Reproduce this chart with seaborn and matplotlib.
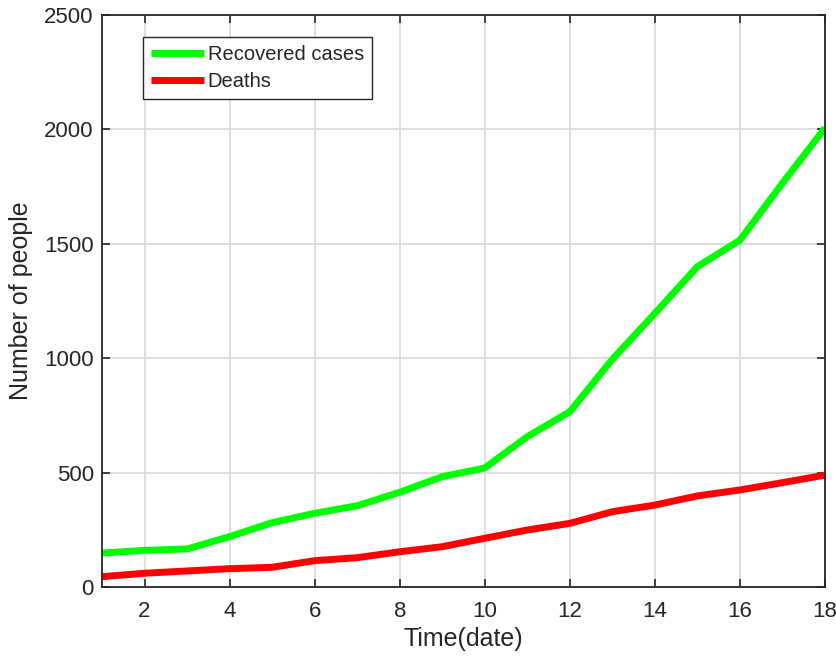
import matplotlib

matplotlib.use("Agg")
import matplotlib.pyplot as plt
import pandas as pd
import seaborn as sns

days = list(range(1, 19))
recovered = [148, 160, 166, 220, 281, 322, 355, 414, 482, 520,
             657, 766, 995, 1196, 1400, 1516, 1765, 2006]
deaths = [45, 60, 70, 80, 86, 115, 128, 154, 176, 213,
          249, 278, 329, 358, 398, 424, 456, 489]
series_names = ["Recovered cases", "Deaths"]
x_ticks = [2, 4, 6, 8, 10, 12, 14, 16, 18]
y_ticks = [0, 500, 1000, 1500, 2000, 2500]

frame = pd.DataFrame({
    "day": days * 2,
    "people": recovered + deaths,
    "series": [series_names[0]] * len(days) + [series_names[1]] * len(days),
})

sns.set_theme(style="whitegrid")
plt.rcParams["font.family"] = ["Liberation Sans", "DejaVu Sans"]

fig = plt.figure(figsize=(8.37, 6.61), dpi=100)
ax = fig.add_axes([0.1219, 0.112, 0.8638, 0.8653])
sns.lineplot(
    data=frame,
    x="day",
    y="people",
    hue="series",
    palette={series_names[0]: "#00ff00", series_names[1]: "#ff0000"},
    linewidth=5,
    ax=ax,
)
for line in ax.get_lines():
    line.set_solid_capstyle("butt")
ax.set_xlim(1, 18)
ax.set_ylim(0, 2500)
ax.set_xticks(x_ticks)
ax.set_yticks(y_ticks)
ax.set_xlabel("Time(date)", fontsize=18, color="#262626", labelpad=4)
ax.set_ylabel("Number of people", fontsize=18, color="#262626", labelpad=8)
ax.tick_params(axis="both", labelsize=16, colors="#262626", direction="in",
               length=6, width=1.2, top=True, right=True, bottom=True, left=True)
ax.tick_params(axis="x", pad=10)
ax.tick_params(axis="y", pad=6)
ax.grid(True, color="#dcdcdc", linewidth=1.3)
ax.set_facecolor("white")
for side in ax.spines.values():
    side.set_visible(True)
    side.set_color("#262626")
    side.set_linewidth(1.3)
leg = ax.legend(
    loc="upper left",
    bbox_to_anchor=(0.057, 0.9615),
    borderaxespad=0,
    fancybox=False,
    frameon=True,
    edgecolor="#262626",
    framealpha=1,
    fontsize=14.5,
    handlelength=2.6,
    handletextpad=0.2,
    borderpad=0.4,
    labelspacing=0.4,
)
leg.get_frame().set_linewidth(1.0)
for handle in leg.get_lines():
    handle.set_solid_capstyle("butt")
fig.savefig("out.png", dpi=100)
plt.close(fig)
